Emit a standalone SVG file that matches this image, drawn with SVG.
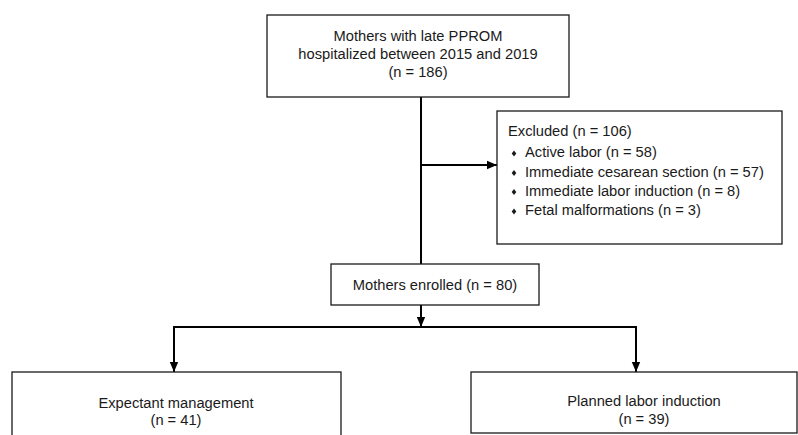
<svg xmlns="http://www.w3.org/2000/svg" width="798" height="435" viewBox="0 0 798 435">
  <style>
    .box { fill: #ffffff; stroke: #1a1a1a; stroke-width: 1.3; }
    .txt { font-family: "Liberation Sans", Arial, sans-serif; font-size: 14.7px; fill: #1a1a1a; }
    .mid { text-anchor: middle; }
    .conn { fill: none; stroke: #000000; stroke-width: 2; }
    .bullet { fill: #1a1a1a; }
  </style>
  <defs>
    <marker id="arrow" markerUnits="userSpaceOnUse" markerWidth="10" markerHeight="10" viewBox="0 0 10 10" refX="10" refY="5" orient="auto">
      <path d="M0,0.8 L10,5 L0,9.2 Z" fill="#000000"/>
    </marker>
  </defs>
  <rect width="798" height="435" fill="#ffffff"/>

  <g id="connectors">
    <line class="conn" x1="421" y1="97" x2="421" y2="264"/>
    <line class="conn" x1="421" y1="165" x2="497" y2="165" marker-end="url(#arrow)"/>
    <line class="conn" x1="421" y1="305" x2="421" y2="327" marker-end="url(#arrow)"/>
    <line class="conn" x1="173" y1="327" x2="637" y2="327"/>
    <line class="conn" x1="174" y1="327" x2="174" y2="372" marker-end="url(#arrow)"/>
    <line class="conn" x1="636" y1="327" x2="636" y2="372" marker-end="url(#arrow)"/>
  </g>

  <g id="node-total">
    <rect class="box" x="267" y="15" width="302" height="82"/>
    <text class="txt mid" x="418" y="40.5">Mothers with late PPROM</text>
    <text class="txt mid" x="418" y="58.5">hospitalized between 2015 and 2019</text>
    <text class="txt mid" x="418" y="76.5">(n = 186)</text>
  </g>

  <g id="node-excluded">
    <rect class="box" x="497" y="111" width="285" height="133"/>
    <text class="txt" x="508" y="136">Excluded (n = 106)</text>
    <polygon class="bullet" points="514,150.5 516.3,153.5 514,156.5 511.7,153.5"/>
    <text class="txt" x="525" y="157">Active labor (n = 58)</text>
    <polygon class="bullet" points="514,170 516.3,173 514,176 511.7,173"/>
    <text class="txt" x="525" y="176.5">Immediate cesarean section (n = 57)</text>
    <polygon class="bullet" points="514,189 516.3,192 514,195 511.7,192"/>
    <text class="txt" x="525" y="195.5">Immediate labor induction (n = 8)</text>
    <polygon class="bullet" points="514,208.5 516.3,211.5 514,214.5 511.7,211.5"/>
    <text class="txt" x="525" y="215">Fetal malformations (n = 3)</text>
  </g>

  <g id="node-enrolled">
    <rect class="box" x="331" y="264" width="208" height="41"/>
    <text class="txt mid" x="435" y="289.5">Mothers enrolled (n = 80)</text>
  </g>

  <g id="node-expectant">
    <rect class="box" x="12" y="372" width="329" height="70"/>
    <text class="txt mid" x="176" y="408">Expectant management</text>
    <text class="txt mid" x="176" y="425">(n = 41)</text>
  </g>

  <g id="node-induction">
    <rect class="box" x="471" y="372" width="326" height="61"/>
    <text class="txt mid" x="644" y="406">Planned labor induction</text>
    <text class="txt mid" x="644" y="424">(n = 39)</text>
  </g>
</svg>
